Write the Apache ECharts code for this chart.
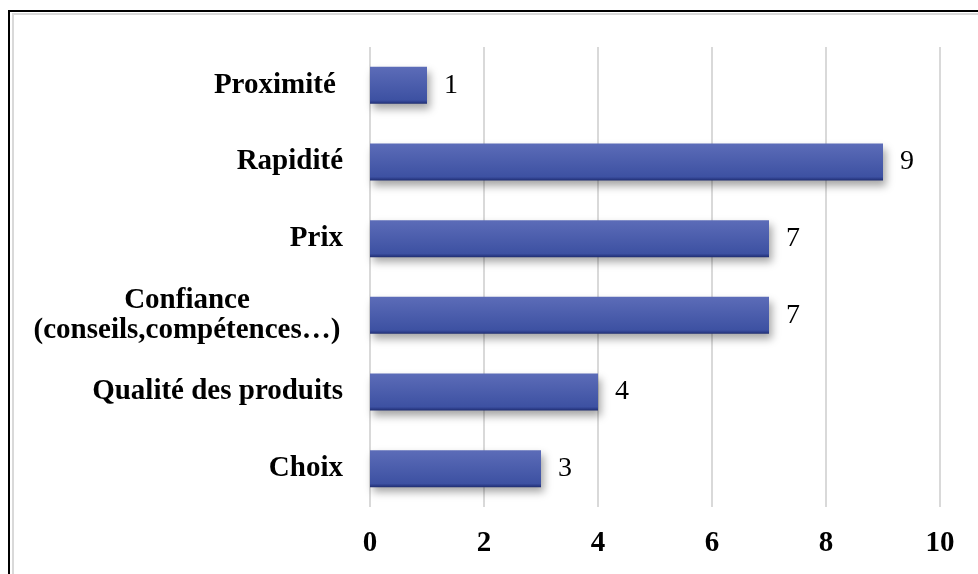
<!DOCTYPE html>
<html>
<head>
<meta charset="utf-8">
<script src="https://cdn.jsdelivr.net/npm/echarts@6/dist/echarts.min.js"></script>
<style>
  html, body { margin: 0; padding: 0; background: #fff; }
  #chart { width: 978px; height: 574px; }
</style>
</head>
<body>
<div id="chart"></div>
<script>
// catégories de bas en haut
const categories = ['Choix', 'Qualité des produits', 'Confiance\n(conseils,compétences…)', 'Prix', 'Rapidité', 'Proximité ']
const values = [3, 4, 7, 7, 9, 1]
const xTicks = [0, 2, 4, 6, 8, 10]

const serif = "'Liberation Serif', 'Times New Roman', serif"

const el = echarts.init(document.getElementById('chart'))

const option = {
  animation: false,
  backgroundColor: '#fff',
  graphic: [
    {
      type: 'rect',
      shape: { x: 9, y: 11, width: 1200, height: 1200 },
      style: { fill: 'none', stroke: '#000', lineWidth: 2 }
    },
    {
      type: 'rect',
      shape: { x: 13, y: 14, width: 1200, height: 1200 },
      style: { fill: 'none', stroke: '#d9d9d9', lineWidth: 2 }
    }
  ],
  grid: {
    left: 370,
    right: 38,
    top: 47,
    bottom: 67
  },
  xAxis: {
    type: 'value',
    min: xTicks[0],
    max: xTicks[xTicks.length - 1],
    interval: 2,
    axisLine: { show: false },
    axisTick: { show: false },
    splitLine: { lineStyle: { color: '#d9d9d9', width: 2 } },
    axisLabel: {
      margin: 22,
      color: '#000',
      fontFamily: serif,
      fontWeight: 'bold',
      fontSize: 29
    }
  },
  yAxis: {
    type: 'category',
    data: categories,
    axisLine: { show: false },
    axisTick: { show: false },
    axisLabel: {
      margin: 27,
      color: '#000',
      fontFamily: serif,
      fontWeight: 'bold',
      fontSize: 29,
      lineHeight: 30,
      formatter: function (v) {
        if (v.indexOf('\n') < 0) return v
        return v.split('\n').map(function (s) { return '{c|' + s + '}' }).join('\n')
      },
      rich: {
        c: {
          width: 312,
          align: 'center',
          color: '#000',
          fontFamily: serif,
          fontWeight: 'bold',
          fontSize: 29,
          lineHeight: 30
        }
      }
    }
  },
  series: [
    {
      type: 'bar',
      data: values,
      barWidth: 37,
      itemStyle: {
        color: new echarts.graphic.LinearGradient(0, 0, 0, 1, [
          { offset: 0, color: '#5c6cb8' },
          { offset: 0.9, color: '#3d51a2' },
          { offset: 0.95, color: '#2e3f8c' },
          { offset: 1, color: '#1f2d70' }
        ]),
        shadowColor: 'rgba(0, 0, 0, 0.35)',
        shadowBlur: 8,
        shadowOffsetX: 3,
        shadowOffsetY: 5
      },
      label: {
        show: true,
        position: 'right',
        distance: 17,
        color: '#000',
        fontFamily: serif,
        fontSize: 28
      }
    }
  ]
}

el.setOption(option)
</script>
</body>
</html>
